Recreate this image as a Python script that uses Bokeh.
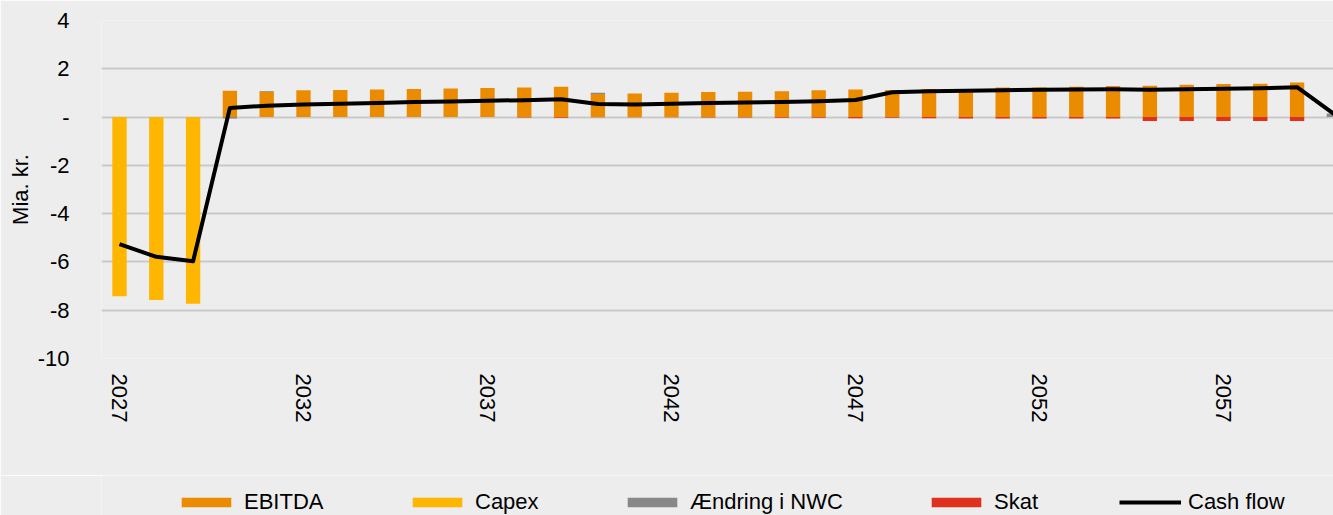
import numpy as np
from bokeh.plotting import figure
from bokeh.layouts import column
from bokeh.models import Range1d, FixedTicker, Legend, LegendItem, ColumnDataSource, CustomJSTickFormatter
from bokeh.embed import file_html
from bokeh.resources import INLINE

# ---------------- data ----------------
years = list(range(2027, 2061))
ebitda = [0, 0, 0, 1.09, 1.05, 1.11, 1.12, 1.14, 1.16, 1.18, 1.20, 1.22, 1.26,
          0.96, 0.98, 1.01, 1.04, 1.05, 1.07, 1.11, 1.14, 1.12, 1.16,
          1.16, 1.22, 1.23, 1.26, 1.29, 1.30, 1.34, 1.37, 1.38, 1.43, 0]
capex = [-7.42, -7.58, -7.73] + [0] * 31
nwc = [0, 0, 0, -0.06, 0.03, 0, 0, 0, 0, 0, 0, 0, 0,
       0.05, 0, 0, 0, 0, 0, 0, 0, 0, 0,
       0, 0, 0, 0, 0, 0, 0, 0, 0, 0, 0.15]
skat = [0, 0, 0, 0, 0, 0, 0, 0, 0, 0, 0, -0.02, -0.03,
        -0.01, -0.01, -0.01, -0.02, -0.02, -0.03, -0.03, -0.05, -0.03, -0.05,
        -0.06, -0.06, -0.06, -0.06, -0.06, -0.16, -0.16, -0.16, -0.16, -0.16, 0]
cash_flow = [-5.26, -5.79, -5.97, 0.38, 0.47, 0.52, 0.55, 0.58, 0.62, 0.65, 0.68, 0.70, 0.74,
             0.54, 0.52, 0.55, 0.58, 0.60, 0.62, 0.66, 0.71, 1.03, 1.07,
             1.09, 1.11, 1.13, 1.14, 1.15, 1.13, 1.15, 1.17, 1.19, 1.24, 0.13]
series_names = ["EBITDA", "Capex", "Ændring i NWC", "Skat"]
line_name = "Cash flow"
x_tick_values = [2027, 2032, 2037, 2042, 2047, 2052, 2057]
y_tick_values = [-10, -8, -6, -4, -2, 0, 2, 4]
y_axis_title = "Mia. kr."

# ---------------- styling ----------------
BG = "#EDEDED"
COLORS = ["#EB8C00", "#FFB600", "#888888", "#E0301E"]
FONT = "Liberation Sans"
FS = "22px"
W = 1333
H_MAIN = 475
H_LEG = 40

p = figure(width=W, height=H_MAIN,
           x_range=Range1d(2026.511, 2059.99), y_range=Range1d(-10, 4),
           output_backend="svg", toolbar_location=None,
           min_border_left=101, min_border_right=0, min_border_top=20,
           min_border_bottom=H_MAIN - 358,
           background_fill_color=BG, border_fill_color=BG, outline_line_color=None)

# stacked bars (positive and negative sides stacked separately)
pos = np.zeros(len(years))
neg = np.zeros(len(years))
bar_renderers = []
for name, vals, col in zip(series_names, [ebitda, capex, nwc, skat], COLORS):
    v = np.array(vals, dtype=float)
    bottom = np.where(v >= 0, pos, neg)
    top = bottom + v
    pos = np.where(v >= 0, pos + v, pos)
    neg = np.where(v < 0, neg + v, neg)
    src = ColumnDataSource(dict(x=years, bottom=bottom, top=top))
    r = p.vbar(x="x", bottom="bottom", top="top", width=0.39, source=src,
               fill_color=col, line_color=None)
    bar_renderers.append(r)

p.line(years, cash_flow, line_width=4, line_color="black", line_join="round")

# axes
p.xgrid.visible = False
p.ygrid.grid_line_color = "#C9C9C9"
p.ygrid.grid_line_width = 2
p.ygrid.ticker = FixedTicker(ticks=y_tick_values)

xa = p.xaxis[0]
xa.ticker = FixedTicker(ticks=x_tick_values)
xa.major_label_orientation = "vertical"
xa.axis_line_color = None
xa.major_tick_line_color = None
xa.minor_tick_line_color = None
xa.major_label_standoff = 9
xa.major_label_text_font = FONT
xa.major_label_text_font_size = FS
xa.major_label_text_color = "#000000"

ya = p.yaxis[0]
ya.ticker = FixedTicker(ticks=y_tick_values)
ya.formatter = CustomJSTickFormatter(code="return tick == 0 ? '-' : tick.toString();")
ya.axis_line_color = None
ya.major_tick_line_color = None
ya.minor_tick_line_color = None
ya.major_label_standoff = 26
ya.major_label_text_font = FONT
ya.major_label_text_font_size = FS
ya.major_label_text_color = "#000000"
ya.axis_label = y_axis_title
ya.axis_label_text_font = FONT
ya.axis_label_text_font_size = FS
ya.axis_label_text_font_style = "normal"
ya.axis_label_text_color = "#000000"
ya.axis_label_standoff = 2

# ---------------- legend strip ----------------
pl = figure(width=W, height=H_LEG, x_range=Range1d(0, 1), y_range=Range1d(0, 1),
            output_backend="svg", toolbar_location=None,
            x_axis_location=None, y_axis_location=None,
            min_border_left=101, min_border_right=0, min_border_top=0, min_border_bottom=0,
            background_fill_color=BG, border_fill_color=BG, outline_line_color=None)
pl.xgrid.visible = False
pl.ygrid.visible = False

# off-screen placeholder glyphs that only serve as legend swatches
leg_renderers = []
for col in COLORS:
    leg_renderers.append(pl.vbar(x=[-10], top=[-10], bottom=[-11], width=0.5,
                                 fill_color=col, line_color=None))
leg_renderers.append(pl.line(x=[-10, -9], y=[-10, -10], line_width=4, line_color="black"))

legend_x = [74, 305, 520, 824, 1018]
all_names = series_names + [line_name]
for lx, r, nm in zip(legend_x, leg_renderers, all_names):
    leg = Legend(items=[LegendItem(label=nm, renderers=[r])], location=(lx, 0),
                 orientation="horizontal", glyph_width=62, glyph_height=12,
                 label_standoff=7, padding=0, margin=0, spacing=0,
                 background_fill_alpha=0, border_line_alpha=0,
                 label_text_font=FONT, label_text_font_size=FS, label_text_color="#000000",
                 label_height=22)
    pl.add_layout(leg, "center")

layout = column(p, pl, spacing=0)
open("out.html", "w").write(file_html(layout, INLINE))
